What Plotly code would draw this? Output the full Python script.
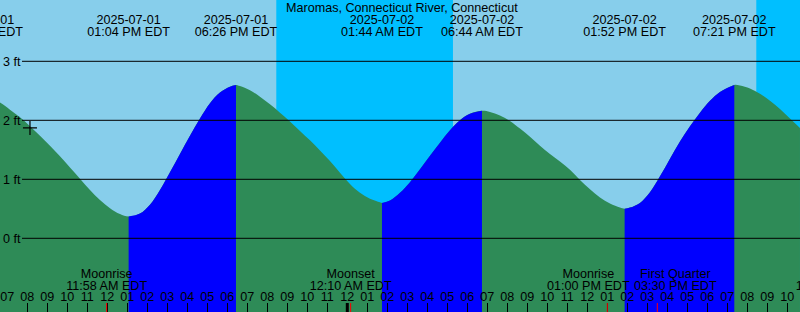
import plotly.graph_objects as go
from datetime import datetime, timedelta

# ---------------- data ----------------
title_text = "Maromas, Connecticut River, Connecticut"

extreme_times = ["2025-07-01 05:44", "2025-07-01 13:04", "2025-07-01 18:26",
                 "2025-07-02 01:44", "2025-07-02 06:44", "2025-07-02 13:52",
                 "2025-07-02 19:21"]
extreme_heights = [2.42, 0.37, 2.60, 0.60, 2.16, 0.50, 2.60]

curve_times = [
    "2025-07-01 06:38", "2025-07-01 07:08", "2025-07-01 07:38", "2025-07-01 08:08",
    "2025-07-01 08:38", "2025-07-01 09:08", "2025-07-01 09:38", "2025-07-01 10:08",
    "2025-07-01 10:38", "2025-07-01 11:08", "2025-07-01 11:38", "2025-07-01 12:08",
    "2025-07-01 12:38", "2025-07-01 13:38", "2025-07-01 14:08", "2025-07-01 14:38",
    "2025-07-01 15:08", "2025-07-01 15:38", "2025-07-01 16:08", "2025-07-01 16:38",
    "2025-07-01 17:08", "2025-07-01 17:38", "2025-07-01 18:08", "2025-07-01 18:38",
    "2025-07-01 19:08", "2025-07-01 19:38", "2025-07-01 20:08", "2025-07-01 20:38",
    "2025-07-01 21:08", "2025-07-01 21:38", "2025-07-01 22:08", "2025-07-01 22:38",
    "2025-07-01 23:08", "2025-07-01 23:38", "2025-07-02 00:08", "2025-07-02 00:38",
    "2025-07-02 01:08", "2025-07-02 01:38", "2025-07-02 02:08", "2025-07-02 02:38",
    "2025-07-02 03:08", "2025-07-02 03:38", "2025-07-02 04:08", "2025-07-02 04:38",
    "2025-07-02 05:08", "2025-07-02 05:38", "2025-07-02 06:08", "2025-07-02 07:08",
    "2025-07-02 07:38", "2025-07-02 08:08", "2025-07-02 08:38", "2025-07-02 09:08",
    "2025-07-02 09:38", "2025-07-02 10:08", "2025-07-02 10:38", "2025-07-02 11:08",
    "2025-07-02 11:38", "2025-07-02 12:08", "2025-07-02 12:38", "2025-07-02 13:08",
    "2025-07-02 13:38", "2025-07-02 14:08", "2025-07-02 14:38", "2025-07-02 15:08",
    "2025-07-02 15:38", "2025-07-02 16:08", "2025-07-02 16:38", "2025-07-02 17:08",
    "2025-07-02 17:38", "2025-07-02 18:08", "2025-07-02 18:38", "2025-07-02 19:08",
    "2025-07-02 19:38", "2025-07-02 20:08", "2025-07-02 20:38", "2025-07-02 21:08",
    "2025-07-02 21:38", "2025-07-02 22:08", "2025-07-02 22:38"]
curve_heights = [
    2.30, 2.18, 2.05, 1.90,
    1.74, 1.57, 1.39, 1.20,
    1.01, 0.82, 0.65, 0.51,
    0.41, 0.42, 0.57, 0.82,
    1.12, 1.43, 1.74, 2.03,
    2.29, 2.47, 2.57, 2.58,
    2.51, 2.40, 2.27, 2.13,
    1.98, 1.82, 1.66, 1.49,
    1.31, 1.11, 0.92, 0.77,
    0.67, 0.61, 0.64, 0.77,
    0.95, 1.17, 1.40, 1.62,
    1.83, 2.00, 2.11, 2.14,
    2.08, 1.99, 1.86, 1.72,
    1.57, 1.43, 1.30, 1.16,
    0.99, 0.83, 0.69, 0.59,
    0.52, 0.52, 0.60, 0.78,
    1.05, 1.35, 1.64, 1.90,
    2.13, 2.33, 2.48, 2.57,
    2.59, 2.54, 2.45, 2.33,
    2.19, 2.03, 1.87]

moon_times = ["2025-07-01 11:58", "2025-07-02 00:10", "2025-07-02 13:00",
              "2025-07-02 15:30", "2025-07-03 00:28"]
moon_names = ["Moonrise", "Moonset", "Moonrise", "First Quarter", "Moonset"]

night_starts = ["2025-07-01 20:27", "2025-07-02 20:27"]
night_ends = ["2025-07-02 05:17", "2025-07-03 05:18"]

now_time = "2025-07-01 08:08"
now_height = 1.87

y_ticks = [0, 1, 2, 3]

# hourly tick labels: 07 AM Jul 1 through 10 PM Jul 2
first_hour = datetime(2025, 7, 1, 7)
hour_ticks = [first_hour + timedelta(hours=k) for k in range(40)]
hour_labels = [t.strftime("%I") for t in hour_ticks]

# ---------------- layout constants ----------------
W, H = 800, 312
PX_PER_FT = 59.0
ZERO_PX = 238.3
X_START = datetime(2025, 7, 1, 6, 38, 6)
X_END = X_START + timedelta(minutes=3 * W)
Y_MIN = (ZERO_PX - H) / PX_PER_FT
Y_MAX = ZERO_PX / PX_PER_FT

DAY = "#87CEEB"
NIGHT = "#00BFFF"
FALL = "#2E8B57"
RISE = "#0000FF"
FONT = "Liberation Sans, Arial, sans-serif"
FS = 12.6


def ft_at_px(px):
    return (ZERO_PX - px) / PX_PER_FT


def p(s):
    return datetime.strptime(s, "%Y-%m-%d %H:%M")


ext = [(p(t), h) for t, h in zip(extreme_times, extreme_heights)]
pts = sorted([(p(t), h) for t, h in zip(curve_times, curve_heights)] + ext)

fig = go.Figure()

# full underlay (falling colour)
fig.add_trace(go.Scatter(x=[pts[0][0], pts[-1][0]], y=[Y_MIN - 1, Y_MIN - 1],
                         mode="lines", line=dict(width=0), hoverinfo="skip",
                         showlegend=False))
fig.add_trace(go.Scatter(x=[a for a, b in pts], y=[b for a, b in pts],
                         mode="lines", line=dict(width=0, shape="spline"),
                         fill="tonexty", fillcolor=FALL, hoverinfo="skip",
                         showlegend=False))

# rising segments
for i in range(len(ext) - 1):
    t0, h0 = ext[i]
    t1, h1 = ext[i + 1]
    if h1 <= h0:
        continue
    seg = [(a, b) for a, b in pts if t0 <= a <= t1]
    fig.add_trace(go.Scatter(x=[t0, t1], y=[Y_MIN - 1, Y_MIN - 1], mode="lines",
                             line=dict(width=0), hoverinfo="skip", showlegend=False))
    fig.add_trace(go.Scatter(x=[a for a, b in seg], y=[b for a, b in seg],
                             mode="lines", line=dict(width=0, shape="spline"),
                             fill="tonexty", fillcolor=RISE, hoverinfo="skip",
                             showlegend=False))

# now marker
fig.add_trace(go.Scatter(x=[p(now_time)], y=[now_height], mode="markers",
                         marker=dict(symbol="cross-thin", size=10,
                                     line=dict(width=1.2, color="black")),
                         hoverinfo="skip", showlegend=False))

tf = dict(family=FONT, size=FS, color="black")

# tide labels (top)
ext_dt = [p(t) for t in extreme_times]
fig.add_trace(go.Scatter(x=ext_dt, y=[ft_at_px(20.5)] * len(ext_dt), mode="text",
                         text=[d.strftime("%Y-%m-%d") for d in ext_dt],
                         textfont=tf, cliponaxis=True, hoverinfo="skip",
                         showlegend=False))
fig.add_trace(go.Scatter(x=ext_dt, y=[ft_at_px(32.7)] * len(ext_dt), mode="text",
                         text=[d.strftime("%I:%M %p EDT") for d in ext_dt],
                         textfont=tf, cliponaxis=True, hoverinfo="skip",
                         showlegend=False))

# moon labels (bottom)
moon_dt = [p(t) for t in moon_times]
moon_shift_px = [0, 0, -19, 18, 0]
moon_x = [d + timedelta(minutes=3 * s) for d, s in zip(moon_dt, moon_shift_px)]
fig.add_trace(go.Scatter(x=moon_x, y=[ft_at_px(275.2)] * len(moon_x), mode="text",
                         text=moon_names, textfont=tf, cliponaxis=True,
                         hoverinfo="skip", showlegend=False))
fig.add_trace(go.Scatter(x=moon_x, y=[ft_at_px(286.7)] * len(moon_x), mode="text",
                         text=[d.strftime("%I:%M %p EDT") for d in moon_dt],
                         textfont=tf, cliponaxis=True, hoverinfo="skip",
                         showlegend=False))

# hour labels along the bottom
fig.add_trace(go.Scatter(x=hour_ticks, y=[ft_at_px(298.3)] * len(hour_ticks),
                         mode="text", text=hour_labels, textfont=tf,
                         cliponaxis=True, hoverinfo="skip", showlegend=False))

shapes = []
for s, e in zip(night_starts, night_ends):
    shapes.append(dict(type="rect", xref="x", yref="paper", x0=p(s), x1=p(e),
                       y0=0, y1=1, fillcolor=NIGHT, line=dict(width=0),
                       layer="below"))
for v in y_ticks:
    shapes.append(dict(type="line", xref="paper", yref="y", x0=22 / W, x1=1,
                       y0=v, y1=v, line=dict(color="black", width=1),
                       layer="above"))
# day boundary tick
shapes.append(dict(type="line", xref="x", yref="paper",
                   x0=datetime(2025, 7, 2), x1=datetime(2025, 7, 2),
                   y0=0, y1=9 / H, line=dict(color="black", width=3),
                   layer="above"))
for d in moon_dt:
    shapes.append(dict(type="line", xref="x", yref="paper", x0=d, x1=d,
                       y0=0, y1=9 / H, line=dict(color="red", width=1),
                       layer="above"))

fig.update_layout(
    width=W, height=H, margin=dict(l=0, r=0, t=0, b=0),
    plot_bgcolor=DAY, paper_bgcolor=DAY,
    showlegend=False, shapes=shapes,
    font=dict(family=FONT, size=FS, color="black"),
    annotations=[dict(text=title_text, xref="paper", yref="paper",
                      x=402 / W, y=1 - 7.6 / H, showarrow=False,
                      xanchor="center", yanchor="middle", font=tf)],
)
fig.update_xaxes(type="date", range=[X_START, X_END], showgrid=False,
                 zeroline=False, showline=False, ticks="inside", ticklen=9,
                 tickwidth=1, tickcolor="black", dtick=3600000,
                 tick0="2025-07-01 07:00", showticklabels=False,
                 fixedrange=True)
fig.update_yaxes(range=[Y_MIN, Y_MAX], showgrid=False, zeroline=False,
                 showline=False, tickvals=y_ticks,
                 ticktext=[f"{v} ft" for v in y_ticks],
                 ticklabelposition="inside", ticks="",
                 tickfont=tf, fixedrange=True)

fig.write_html("out.html")
